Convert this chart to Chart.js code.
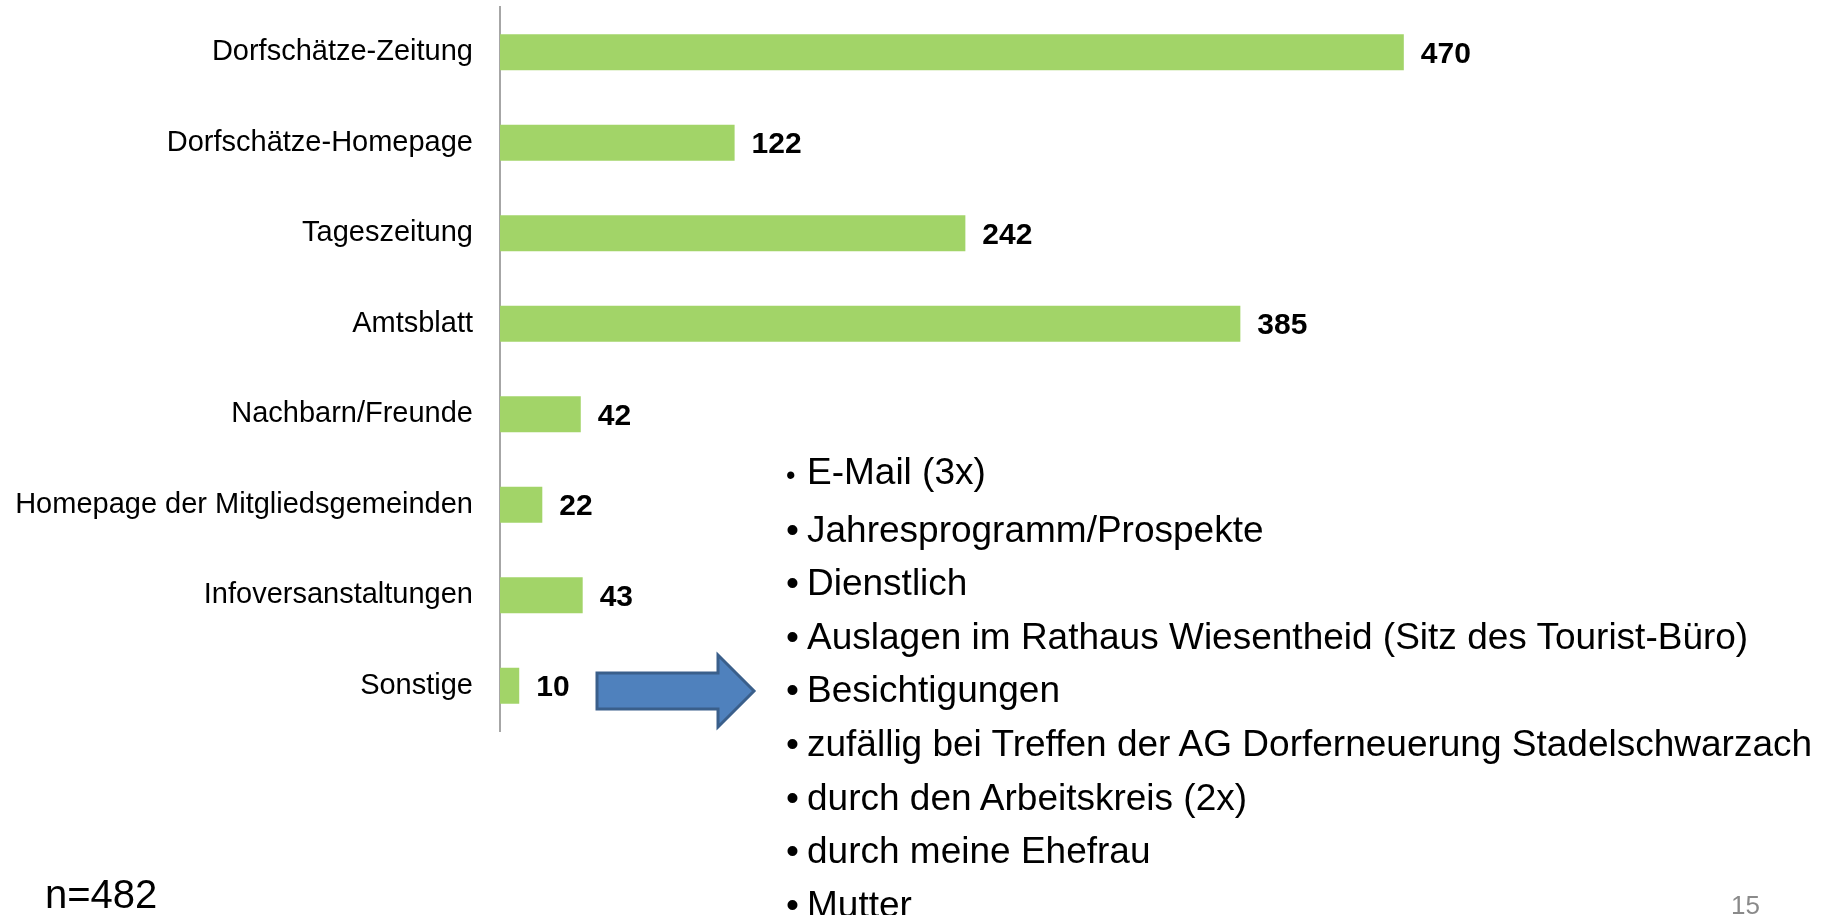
<!DOCTYPE html>
<html lang="de">
<head>
<meta charset="utf-8">
<title>Dorfschätze – Informationsquellen</title>
<script src="https://cdn.jsdelivr.net/npm/chart.js@4/dist/chart.umd.min.js"></script>
<style>
  html, body { margin: 0; padding: 0; background: #fff; overflow: hidden; }
  body { width: 1833px; height: 915px; position: relative; font-family: "Liberation Sans", Arial, sans-serif; }
  #chart { position: absolute; left: 0; top: 0; }
  #others { position: absolute; left: 786px; top: 445px; margin: 0; padding: 0; list-style: none;
            font-size: 37px; line-height: 53.6px; color: #000; white-space: nowrap; }
  #others li .dot { display: inline-block; width: 21px; }
  #others li:first-child .dot { font-size: 27px; }
  #sample { position: absolute; left: 45px; top: 874px; font-size: 40px; line-height: 40px; color: #000; }
  #page { position: absolute; left: 1731px; top: 892px; font-size: 26px; line-height: 26px; color: #8a8a8a; }
  #arrow { position: absolute; left: 0; top: 0; pointer-events: none; }
</style>
</head>
<body>
<canvas id="chart" width="1833" height="915"></canvas>
<svg id="arrow" width="1833" height="915">
  <polygon points="597,673 718,673 718,655 754,691 718,727 718,709 597,709"
           fill="#4f81bd" stroke="#3a5f8b" stroke-width="3" stroke-linejoin="miter"/>
</svg>
<ul id="others"></ul>
<div id="sample"></div>
<div id="page"></div>
<script>
const categories = [
    'Dorfschätze-Zeitung',
    'Dorfschätze-Homepage',
    'Tageszeitung',
    'Amtsblatt',
    'Nachbarn/Freunde',
    'Homepage der Mitgliedsgemeinden',
    'Infoversanstaltungen',
    'Sonstige'
];
const counts = [470, 122, 242, 385, 42, 22, 43, 10];

// what was named under "Sonstige"
const otherMentions = [
    'E-Mail (3x)',
    'Jahresprogramm/Prospekte',
    'Dienstlich',
    'Auslagen im Rathaus Wiesentheid (Sitz des Tourist-Büro)',
    'Besichtigungen',
    'zufällig bei Treffen der AG Dorferneuerung Stadelschwarzach',
    'durch den Arbeitskreis (2x)',
    'durch meine Ehefrau',
    'Mutter'
];
const sampleSize = 'n=482';
const pageNumber = '15';

const fontFamily = '"Liberation Sans", Arial, Helvetica, sans-serif';

const list = document.getElementById('others');
otherMentions.forEach(text => {
    const li = document.createElement('li');
    const dot = document.createElement('span');
    dot.className = 'dot';
    dot.textContent = '•';
    li.appendChild(dot);
    li.appendChild(document.createTextNode(text));
    list.appendChild(li);
});
document.getElementById('sample').innerText = sampleSize;
document.getElementById('page').innerText = pageNumber;

// value labels right of each bar
const valueLabels = {
    id: 'valueLabels',
    afterDatasetsDraw(chart) {
        const ctx = chart.ctx;
        const meta = chart.getDatasetMeta(0);
        ctx.save();
        ctx.font = 'bold 30px ' + fontFamily;
        ctx.fillStyle = '#000';
        ctx.textAlign = 'left';
        ctx.textBaseline = 'middle';
        meta.data.forEach((bar, i) => {
            ctx.fillText(String(counts[i]), bar.x + 17, bar.y + 2);
        });
        ctx.restore();
    }
};

new Chart(document.getElementById('chart').getContext('2d'), {
    type: 'bar',
    data: {
        labels: categories,
        datasets: [{
            data: counts,
            backgroundColor: 'rgb(162, 212, 104)',
            borderWidth: 0,
            categoryPercentage: 1,
            barPercentage: 0.4
        }]
    },
    options: {
        indexAxis: 'y',
        responsive: false,
        devicePixelRatio: 1,
        animation: false,
        layout: { padding: { left: 12, right: 371.5, top: 7, bottom: 184 } },
        plugins: {
            legend: { display: false },
            tooltip: { enabled: false }
        },
        scales: {
            x: { display: false, min: 0, max: 500 },
            y: {
                grid: { display: false, drawTicks: false },
                border: { display: true, color: '#a6a6a6', width: 2 },
                ticks: {
                    color: '#000',
                    padding: 27,
                    font: { family: fontFamily, size: 29 }
                },
                afterFit: scale => {
                    scale.width = 488;
                    scale.paddingTop = 0;
                    scale.paddingBottom = 0;
                }
            }
        }
    },
    plugins: [valueLabels]
});
</script>
</body>
</html>
